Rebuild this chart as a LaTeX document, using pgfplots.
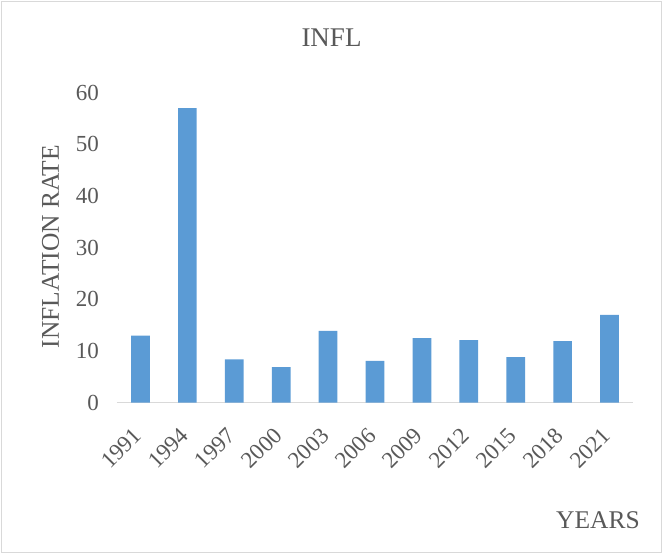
\documentclass[border=0pt]{standalone}
\usepackage{pgfplots}
\pgfplotsset{compat=1.18}
\usepackage{fontspec}
\setmainfont{Liberation Serif}
\definecolor{barblue}{HTML}{5B9BD5}
\definecolor{txtgray}{HTML}{595959}
\definecolor{rulegray}{HTML}{D9D9D9}

\begin{document}
\begin{tikzpicture}
% chart frame (also fixes the page size)
\path[use as bounding box] (-117pt,-151.3pt) rectangle (546pt,402.7pt);
\draw[rulegray, line width=1pt] (-115.5pt,-149.8pt) rectangle (544.5pt,401.2pt);

\begin{axis}[
  at={(0pt,0pt)}, anchor=south west,
  scale only axis, width=516pt, height=310pt,
  xmin=-0.5, xmax=10.5, ymin=0, ymax=60,
  axis x line=bottom, axis y line=left,
  x axis line style={draw=rulegray, line width=1pt, -},
  y axis line style={draw=none},
  major tick length=0pt,
  ytick={0,10,...,60},
  xtick=data,
  xticklabels={1991,1994,1997,2000,2003,2006,2009,2012,2015,2018,2021},
  ticklabel style={text=txtgray, font=\fontsize{23}{23}\selectfont},
  /pgf/number format/assume math mode=true,
  yticklabel style={anchor=east, inner sep=0pt, xshift=-18pt},
  xticklabel style={xshift=-3pt, yshift=-29pt, rotate=45, anchor=east, inner sep=0pt},
  ybar, bar width=18.7pt,
  clip=false,
]
\addplot[fill=barblue, draw=none] coordinates {
  (0,13.0) (1,57.0) (2,8.4) (3,6.9) (4,13.9) (5,8.1)
  (6,12.5) (7,12.1) (8,8.8) (9,11.9) (10,17.0)
};
\end{axis}

% titles
\node[text=txtgray, font=\fontsize{27}{27}\selectfont, inner sep=0pt, anchor=center]
  at (214.5pt,364.7pt) {INFL};
\node[text=txtgray, font=\fontsize{25.5}{25.5}\selectfont, inner sep=0pt, anchor=center, rotate=90]
  at (-66.5pt,156.2pt) {INFLATION RATE};
\node[text=txtgray, font=\fontsize{25.5}{25.5}\selectfont, inner sep=0pt, anchor=center]
  at (481pt,-117.3pt) {YEARS};
\end{tikzpicture}
\end{document}
